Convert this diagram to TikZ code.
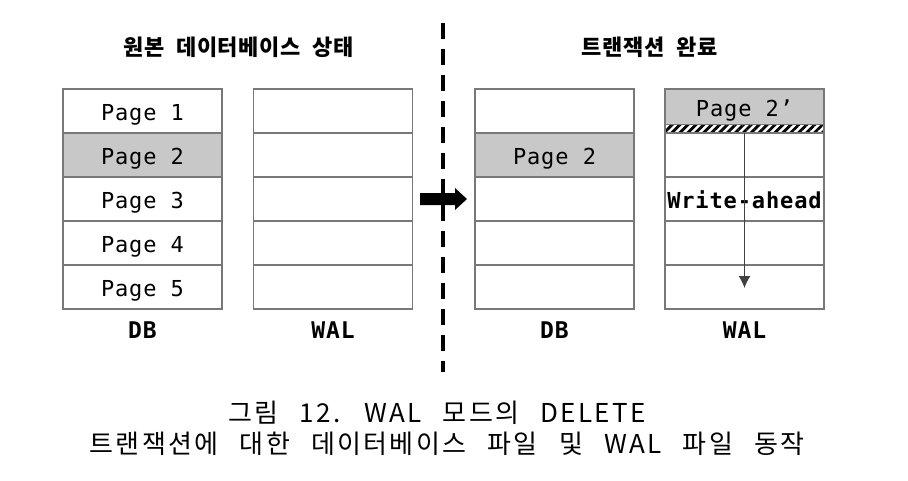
\documentclass[tikz,border=0pt]{standalone}
\usepackage{fontspec}
\usepackage{xcolor}
\usepackage{tikz}
\usetikzlibrary{positioning,arrows.meta,patterns.meta}

\newfontfamily\monofont[LetterSpace=4]{DejaVu Sans Mono}
\newfontfamily\krtitlefont[LetterSpace=3,WordSpace=2]{Noto Sans CJK KR}
\newfontfamily\krcapfont[LetterSpace=9,WordSpace=2.6]{Noto Sans CJK KR}

\definecolor{pagegray}{RGB}{200,200,200}
\definecolor{linegray}{RGB}{120,120,120}

\begin{document}
\begin{tikzpicture}[x=1pt, y=-1pt,
  every node/.style={outer sep=0pt},
  cell/.style={rectangle, draw=linegray, line width=1.4pt, minimum width=159pt, minimum height=44pt, inner sep=0pt, text height=19pt, text depth=0pt, font=\monofont\fontsize{22}{26}\selectfont},
  lbl/.style={inner sep=0pt, text depth=0pt, font=\monofont\bfseries\fontsize{23}{27}\selectfont},
  title/.style={inner sep=0pt, font=\krtitlefont\bfseries\fontsize{22}{26}\selectfont},
  caption/.style={inner sep=0pt, font=\krcapfont\fontsize{26}{31}\selectfont}]

\useasboundingbox (0,0) rectangle (908,480);
\fill[white] (0,0) rectangle (908,480);

% titles
\node (origtitle) [title] at (238.5,47) {원본 데이터베이스 상태};
\node (donetitle) [title] at (649.5,47) {트랜잭션 완료};

% original database
\node (db1) [cell] at (142.5,111) {Page 1};
\node (db2) [cell, fill=pagegray, below=0pt of db1] {Page 2};
\node (db3) [cell, below=0pt of db2] {Page 3};
\node (db4) [cell, below=0pt of db3] {Page 4};
\node (db5) [cell, below=0pt of db4] {Page 5};
\node (dbname) [lbl, below=13pt of db5] {DB};

\node (wal1) [cell] at (333,111) {};
\node (wal2) [cell, below=0pt of wal1] {};
\node (wal3) [cell, below=0pt of wal2] {};
\node (wal4) [cell, below=0pt of wal3] {};
\node (wal5) [cell, below=0pt of wal4] {};
\node (walname) [lbl, below=13pt of wal5] {WAL};

% separator and transition arrow
\fill (420,193) -- (455,193) -- (455,188) -- (467,199) -- (455,210) -- (455,205) -- (420,205) -- cycle;
\draw[line width=4pt, dash pattern=on 15.5pt off 10.5pt] (443,23) -- (443,372);

% after the transaction
\node (ndb1) [cell] at (554.5,111) {};
\node (ndb2) [cell, fill=pagegray, below=0pt of ndb1] {Page 2};
\node (ndb3) [cell, below=0pt of ndb2] {};
\node (ndb4) [cell, below=0pt of ndb3] {};
\node (ndb5) [cell, below=0pt of ndb4] {};
\node (ndbname) [lbl, below=13pt of ndb5] {DB};

\node (nwal1) [cell, fill=pagegray, minimum height=35.5pt] at (744.5,106.75) {Page 2’};
\node (hatch) [cell, minimum height=8.5pt, text height=0pt, pattern={Lines[angle=45,distance=5.6pt,line width=2.8pt]}, below=0pt of nwal1] {};
\node (nwal2) [cell, below=0pt of hatch] {};
\node (nwal3) [cell, below=0pt of nwal2] {\bfseries Write-ahead};
\node (nwal4) [cell, below=0pt of nwal3] {};
\node (nwal5) [cell, below=0pt of nwal4] {};
\node (nwalname) [lbl, below=13pt of nwal5] {WAL};

\coordinate (aheadend) at (744.5,288);
\draw[-{Latex[length=12pt,width=12pt]}, line width=1.3pt, black!75] (hatch.south) -- (aheadend);

% caption
\node (cap1) [caption] at (437,413) {그림 12. WAL 모드의 DELETE};
\node (cap2) [caption] at (447,444) {트랜잭션에 대한 데이터베이스 파일 및 WAL 파일 동작};

\end{tikzpicture}
\end{document}
